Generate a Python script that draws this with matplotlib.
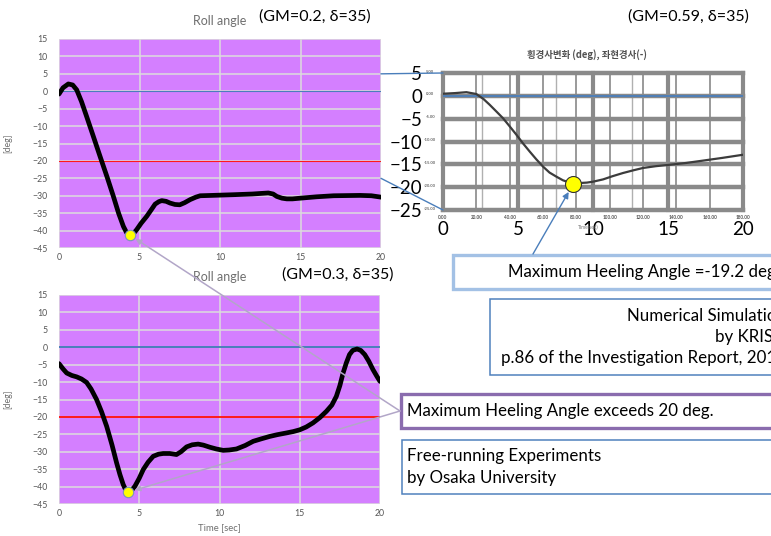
import matplotlib
matplotlib.use("Agg")
import matplotlib.pyplot as plt
from matplotlib.patches import Rectangle, ConnectionPatch

plt.rcParams['font.family'] = ['Lato', 'DejaVu Sans']

# roll angle, GM=0.2, delta=35 (free-running model test)
t_gm02 = [0, 0.25, 0.58, 0.85, 1.1, 1.4, 1.72, 2.1, 2.55, 3.0, 3.38, 3.7, 4.0, 4.2, 4.4,
          4.6, 4.83, 5.1, 5.45, 5.75, 5.97, 6.2, 6.38, 6.65, 6.9, 7.2, 7.5, 7.8, 8.15,
          8.5, 8.77, 9.5, 10.84, 12.0, 13.0, 13.3, 13.53, 13.85, 14.15, 14.5, 14.98,
          16.0, 17.06, 18.7, 19.4, 20]
roll_gm02 = [-0.8, 1.0, 2.1, 1.8, 0.4, -3.0, -7.3, -12.5, -18.7, -24.8, -30.2, -35.0,
             -38.8, -40.6, -41.3, -41.0, -39.7, -37.9, -35.9, -33.9, -32.4, -31.7, -31.4,
             -31.6, -32.1, -32.5, -32.6, -32.0, -31.1, -30.4, -30.0, -29.9, -29.7, -29.5,
             -29.2, -29.5, -30.2, -30.7, -30.9, -30.9, -30.7, -30.3, -30.0, -29.9, -30.0,
             -30.4]

# roll angle, GM=0.3, delta=35
t_gm03 = [0, 0.25, 0.48, 0.8, 1.1, 1.4, 1.72, 2.0, 2.34, 2.65, 2.97, 3.3, 3.59, 3.8, 4.0,
          4.15, 4.3, 4.5, 4.73, 5.0, 5.25, 5.55, 5.87, 6.2, 6.49, 6.9, 7.32, 7.6, 7.95,
          8.3, 8.67, 9.0, 9.4, 9.8, 10.23, 10.6, 11.06, 11.6, 12.1, 12.6, 13.13, 13.6,
          14.17, 14.6, 15.0, 15.4, 15.83, 16.25, 16.66, 17.0, 17.28, 17.5, 17.7, 17.9,
          18.1, 18.3, 18.57, 18.8, 19.05, 19.3, 19.56, 19.8, 20]
roll_gm03 = [-4.7, -6.2, -7.4, -8.1, -8.5, -9.1, -10.1, -12.0, -15.0, -18.5, -22.7, -28.0,
             -33.2, -36.6, -39.4, -40.9, -41.6, -41.2, -39.9, -37.6, -35.1, -33.0, -31.3,
             -30.7, -30.5, -30.5, -30.8, -30.0, -28.6, -28.0, -27.8, -28.1, -28.7, -29.2,
             -29.6, -29.5, -29.2, -28.2, -27.0, -26.3, -25.6, -25.1, -24.6, -24.2, -23.7,
             -22.9, -21.7, -20.2, -18.4, -16.6, -14.1, -11.0, -7.4, -4.5, -2.1, -0.9,
             -0.5, -0.9, -2.1, -4.0, -6.4, -8.3, -9.8]

# KRISO simulation, GM=0.59 (time rescaled to 0-20)
t_gm059 = [0, 0.8, 1.56, 2.22, 2.7, 3.11, 3.55, 4.0, 4.45, 4.89, 5.33, 5.78, 6.22, 6.67,
           7.1, 7.56, 8.0, 8.44, 8.7, 9.1, 9.6, 10.0, 10.67, 11.3, 12.0, 12.7, 13.33,
           14.2, 15.1, 16.2, 17.3, 18.6, 20]
roll_gm059 = [0.46, 0.6, 0.8, 0.4, -0.7, -1.95, -3.4, -4.9, -6.7, -8.5, -10.4, -12.2,
              -13.9, -15.5, -16.8, -17.7, -18.5, -19.0, -19.2, -19.1, -19.0, -18.8,
              -18.3, -17.6, -16.9, -16.3, -15.8, -15.4, -15.1, -14.7, -14.2, -13.6, -12.9]
max_heel_t = 8.7
max_heel = -19.2

sim_xticks = [0, 5, 10, 15, 20]
sim_yticks = [5, 0, -5, -10, -15, -20, -25]
sim_orig_xlabels = ['0.00', '20.00', '40.00', '60.00', '80.00', '100.00', '120.00',
                    '140.00', '160.00', '180.00']
sim_orig_ylabels = ['5.00', '0.00', '-5.00', '-10.00', '-15.00', '-20.00', '-25.00']

W, H = 771, 536
PURPLE = '#d47fff'
GRAY_TXT = '#6f6f6f'
BOX_FS = 12.2


def rect(x0, y0, x1, y1):
    # pixel box (top-left origin) -> figure fraction
    return [x0 / W, 1 - y1 / H, (x1 - x0) / W, (y1 - y0) / H]


def fx(x):
    return x / W


def fy(y):
    return 1 - y / H


fig = plt.figure(figsize=(W / 100, H / 100), dpi=100)


def roll_chart(pos, t, roll, line_w):
    ax = fig.add_axes(pos)
    ax.set_facecolor(PURPLE)
    ax.set_xlim(0, 20)
    ax.set_ylim(-45, 15)
    ax.set_xticks(range(0, 21, 5))
    ax.set_yticks(range(-45, 16, 5))
    ax.grid(color='#dcdcdc', lw=1.1)
    ax.set_axisbelow(True)
    for s in ax.spines.values():
        s.set_visible(False)
    ax.tick_params(length=0, labelsize=6.3, labelcolor='#555555')
    ax.tick_params(axis='y', pad=8)
    ax.tick_params(axis='x', pad=3.5)
    ax.axhline(0, color='#4a7ebb', lw=line_w, zorder=2)
    ax.axhline(-20, color='#ff1a1a', lw=line_w, zorder=2)
    ax.plot(t, roll, color='black', lw=3.4, solid_joinstyle='round',
            solid_capstyle='round', zorder=3)
    i = roll.index(min(roll))
    ax.plot(t[i], roll[i], 'o', ms=7.5, mfc='#ffff00', mec='#7a95b8', mew=0.8, zorder=4)
    ax.set_ylabel('[deg]', fontsize=6.3, color=GRAY_TXT)
    ax.yaxis.set_label_coords(-0.146, 0.5)
    return ax, (t[i], roll[i])


ax1, min1 = roll_chart(rect(59, 39, 381, 248), t_gm02, roll_gm02, 0.8)
ax2, min2 = roll_chart(rect(59, 295, 380, 504), t_gm03, roll_gm03, 1.4)
ax2.set_xlabel('Time [sec]', fontsize=6.8, color=GRAY_TXT, labelpad=4)

# scanned simulation result with overlaid scale
ax3 = fig.add_axes(rect(443, 73, 743, 210))
ax3.set_xlim(0, 20)
ax3.set_ylim(-25, 5)
for s in ax3.spines.values():
    s.set_visible(False)
for k in range(1, 9):
    ax3.axvline(k * 20 / 9, color='#9a9a9a', lw=1.4, zorder=1)
for x in [2.6, 7.53, 12.6]:
    ax3.axvline(x, color='#b0b0b0', lw=1.0, zorder=1)
for x in sim_xticks:
    ax3.axvline(x, color='#8a8a8a', lw=3.0, clip_on=False, zorder=1)
for y in sim_yticks:
    ax3.axhline(y, color='#8a8a8a', lw=3.2, clip_on=False, zorder=1)
ax3.axhline(0, color='#4a7ebb', lw=1.3, zorder=2)
ax3.plot(t_gm059, roll_gm059, color='#3c3c3c', lw=1.6, zorder=3)
ax3.plot(max_heel_t, max_heel, 'o', ms=11.5, mfc='#ffff00', mec='#333333', mew=0.8,
         zorder=5)
ax3.set_xticks(sim_xticks)
ax3.set_yticks(sim_yticks)
ax3.tick_params(length=0, labelsize=13.5, labelcolor='black')
ax3.tick_params(axis='y', pad=15)
ax3.tick_params(axis='x', pad=8)
for k, lab in enumerate(sim_orig_xlabels):
    ax3.text(k * 20 / 9, -26.7, lab, fontsize=3.3, color='#555555', ha='center',
             va='center', fontweight='bold')
for y, lab in zip(sim_yticks, sim_orig_ylabels):
    ax3.text(-0.85, y + 0.3, lab, fontsize=3.0, color='#666666', ha='center',
             va='center', fontweight='bold', clip_on=False)
ax3.text(9.7, -28.8, 'Time(sec)', fontsize=3.5, color='#777777', ha='center',
         va='center')
fig.text(fx(587), fy(55), '횡경사변화 (deg), 좌현경사(-)', family=['Noto Sans CJK KR'],
         fontsize=6.8, fontweight='bold', color='#333333', ha='center', va='center',
         alpha=0.85)

# zoom lines between the two upper charts
for y in [5, -25]:
    fig.add_artist(ConnectionPatch(xyA=(20, y), coordsA=ax1.transData,
                                   xyB=(0, y), coordsB=ax3.transData,
                                   color='#4a7ebb', lw=1.0))

# headers
fig.text(fx(220), fy(21), 'Roll angle', fontsize=9, color=GRAY_TXT, ha='center',
         va='center')
fig.text(fx(259), fy(17), '(GM=0.2, δ=35)', fontsize=11.5, ha='left', va='center')
fig.text(fx(628), fy(17), '(GM=0.59, δ=35)', fontsize=11.5, ha='left', va='center')
fig.text(fx(220), fy(277), 'Roll angle', fontsize=9, color=GRAY_TXT, ha='center',
         va='center', bbox=dict(fc='white', ec='none', pad=1))
fig.text(fx(282), fy(275), '(GM=0.3, δ=35)', fontsize=11.5, ha='left', va='center')


def frame(x0, y0, x1, y1, color, lw):
    fig.add_artist(Rectangle((fx(x0), fy(y1)), (x1 - x0) / W, (y1 - y0) / H,
                             transform=fig.transFigure, fill=True, fc='white',
                             ec=color, lw=lw, zorder=6))


# annotation boxes
frame(453, 255, 800, 289, '#a3c1e5', 2.4)
fig.text(fx(508), fy(272), f'Maximum Heeling Angle ={max_heel} deg', fontsize=BOX_FS,
         ha='left', va='center', zorder=7)

frame(490, 299, 800, 375, '#4f81bd', 1.1)
fig.text(fx(786), fy(337), 'Numerical Simulation\nby KRISO\n'
         'p.86 of the Investigation Report, 2014', fontsize=BOX_FS, ha='right',
         va='center', multialignment='right', linespacing=1.4, zorder=7)

frame(401, 394, 800, 428, '#8a6cae', 2.4)
fig.text(fx(407), fy(411), 'Maximum Heeling Angle exceeds 20 deg.', fontsize=BOX_FS,
         ha='left', va='center', zorder=7)

frame(402, 440, 800, 494, '#4f81bd', 1.1)
fig.text(fx(407), fy(467), 'Free-running Experiments\nby Osaka University',
         fontsize=BOX_FS, ha='left', va='center', linespacing=1.45, zorder=7)

# pointers to the maximum heel points
fig.add_artist(ConnectionPatch(xyA=(fx(533), fy(254)), coordsA=fig.transFigure,
                               xyB=(max_heel_t, max_heel), coordsB=ax3.transData,
                               arrowstyle='-|>', mutation_scale=9, shrinkB=7,
                               color='#4a7ebb', lw=1.0, zorder=8))
for ax, pt in [(ax1, min1), (ax2, min2)]:
    fig.add_artist(ConnectionPatch(xyA=(fx(400), fy(411)), coordsA=fig.transFigure,
                                   xyB=pt, coordsB=ax.transData,
                                   arrowstyle='-|>', mutation_scale=8, shrinkB=5,
                                   color='#b2a6c8', lw=1.1, zorder=8))

fig.savefig('out.png', dpi=100)
